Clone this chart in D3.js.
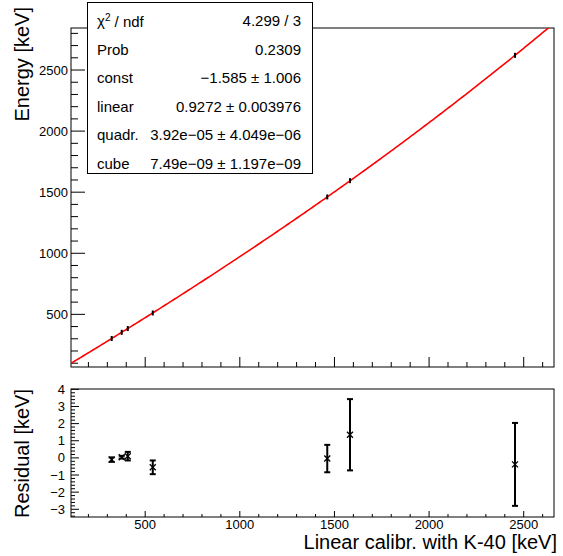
<!DOCTYPE html>
<html>
<head>
<meta charset="utf-8">
<script src="https://cdn.jsdelivr.net/npm/d3@7"></script>
<style>
  body { margin: 0; background: #fff; }
  svg { font-family: "Liberation Sans", Arial, Helvetica, sans-serif; }
</style>
</head>
<body>
<svg id="chart" width="563" height="556"></svg>
<script>
// calibration points: linear calib (K-40) vs. true energy, plus fit residuals
const calib = [323, 376, 408, 540, 1462, 1582, 2454];
const energy = [302.2, 353.0, 383.8, 511.2, 1461.2, 1594.3, 2620.2];
const residual = [-0.1, 0.04, 0.1, -0.55, -0.04, 1.35, -0.38];
const residualErr = [0.13, 0.08, 0.25, 0.4, 0.8, 2.08, 2.42];

// pol3 fit parameters from the stat box
const fitParams = [-1.585, 0.9272, 3.92e-5, 7.49e-9];
const statRows = [
  ["χ2 / ndf", "4.299 / 3"],
  ["Prob", "0.2309"],
  ["const", "−1.585 ± 1.006"],
  ["linear", "0.9272 ± 0.003976"],
  ["quadr.", "3.92e−05 ± 4.049e−06"],
  ["cube", "7.49e−09 ± 1.197e−09"],
];

const xTicks = [500, 1000, 1500, 2000, 2500];
const yTicksTop = [500, 1000, 1500, 2000, 2500];
const yTicksBottom = [-3, -2, -1, 0, 1, 2, 3, 4];

const svg = d3.select("#chart");
const left = 71, right = 554;
const top1 = 28, bot1 = 367;
const top2 = 389, bot2 = 517;

const x = d3.scaleLinear().domain([108, 2660]).range([left, right]);
const yTop = d3.scaleLinear().domain([69, 2844]).range([bot1, top1]);
const yBot = d3.scaleLinear().domain([-3.45, 4.02]).range([bot2, top2]);

const fit = (v) => fitParams.reduce((s, p, i) => s + p * Math.pow(v, i), 0);

svg.append("defs").append("clipPath").attr("id", "clipTop")
  .append("rect").attr("x", left).attr("y", top1).attr("width", right - left).attr("height", bot1 - top1);

// ---- frames
[[top1, bot1], [top2, bot2]].forEach(([t, b]) => {
  svg.append("rect").attr("x", left).attr("y", t).attr("width", right - left).attr("height", b - t)
    .attr("fill", "none").attr("stroke", "#000").attr("stroke-width", 1);
});

// ---- ticks helpers
function xTickMarks(yBase, majorLen, minorLen) {
  const g = svg.append("g").attr("stroke", "#000").attr("stroke-width", 1);
  d3.range(200, 2700, 100).forEach((v) => {
    const len = v % 500 === 0 ? majorLen : minorLen;
    g.append("line").attr("x1", x(v)).attr("x2", x(v)).attr("y1", yBase).attr("y2", yBase - len);
  });
}
function yTickMarks(scale, values, isMajor, majorLen, minorLen) {
  const g = svg.append("g").attr("stroke", "#000").attr("stroke-width", 1);
  values.forEach((v) => {
    const len = isMajor(v) ? majorLen : minorLen;
    g.append("line").attr("x1", left).attr("x2", left + len).attr("y1", scale(v)).attr("y2", scale(v));
  });
}

xTickMarks(bot1, 10, 5);
xTickMarks(bot2, 6, 3);
yTickMarks(yTop, d3.range(100, 2900, 100), (v) => v % 500 === 0, 14, 7);
yTickMarks(yBot, d3.range(-3.4, 4.01, 0.2).map((v) => Math.round(v * 10) / 10),
  (v) => Number.isInteger(v), 8, 4);

// ---- tick labels
svg.append("g").selectAll("text").data(yTicksTop).join("text")
  .attr("x", left - 3).attr("y", (d) => yTop(d)).attr("dy", "0.35em")
  .attr("text-anchor", "end").attr("font-size", 13).text((d) => d);

svg.append("g").selectAll("text").data(yTicksBottom).join("text")
  .attr("x", left - 6).attr("y", (d) => yBot(d)).attr("dy", "0.35em")
  .attr("text-anchor", "end").attr("font-size", 13).text((d) => (d < 0 ? "−" + -d : d));

svg.append("g").selectAll("text").data(xTicks).join("text")
  .attr("x", (d) => x(d)).attr("y", 529)
  .attr("text-anchor", "middle").attr("font-size", 13).text((d) => d);

// ---- axis titles
svg.append("text").attr("transform", "translate(29,7) rotate(-90)")
  .attr("text-anchor", "end").attr("font-size", 20).text("Energy [keV]");
svg.append("text").attr("transform", `translate(29,${top2}) rotate(-90)`)
  .attr("text-anchor", "end").attr("font-size", 20).text("Residual [keV]");
svg.append("text").attr("x", right + 3).attr("y", 549)
  .attr("text-anchor", "end").attr("font-size", 20).text("Linear calibr. with K-40 [keV]");

// ---- fit curve
const xs = d3.range(108, 2661, 10);
svg.append("path").datum(xs)
  .attr("clip-path", "url(#clipTop)")
  .attr("fill", "none").attr("stroke", "#ff0000").attr("stroke-width", 1.6)
  .attr("d", d3.line().x((d) => x(d)).y((d) => yTop(fit(d))));

// ---- top panel points (tiny markers)
svg.append("g").selectAll("rect").data(calib).join("rect")
  .attr("x", (d) => x(d) - 1).attr("y", (d, i) => yTop(energy[i]) - 2.5)
  .attr("width", 2).attr("height", 5).attr("fill", "#000");

// ---- residuals with error bars
const res = svg.append("g").attr("stroke", "#000");
calib.forEach((c, i) => {
  const cx = x(c);
  const y0 = yBot(residual[i] - residualErr[i]);
  const y1 = yBot(residual[i] + residualErr[i]);
  res.append("line").attr("x1", cx).attr("x2", cx).attr("y1", y0).attr("y2", y1).attr("stroke-width", 2);
  [y0, y1].forEach((yy) => {
    res.append("line").attr("x1", cx - 3).attr("x2", cx + 3).attr("y1", yy).attr("y2", yy).attr("stroke-width", 2);
  });
  const cy = yBot(residual[i]);
  const s = 3;
  res.append("path")
    .attr("d", `M${cx - s},${cy - s}L${cx + s},${cy + s}M${cx - s},${cy + s}L${cx + s},${cy - s}`)
    .attr("stroke-width", 1.3).attr("fill", "none");
});

// ---- stat box
const box = svg.append("g");
box.append("rect").attr("x", 87.5).attr("y", 2.5).attr("width", 225).attr("height", 171)
  .attr("fill", "#fff").attr("stroke", "#000").attr("stroke-width", 1);
statRows.forEach(([label, value], i) => {
  const yy = 21 + i * 28.5;
  const t = box.append("text").attr("x", 97).attr("y", yy).attr("dy", "0.35em").attr("font-size", 15);
  if (i === 0) {
    t.append("tspan").text("χ");
    t.append("tspan").attr("font-size", 10).attr("dy", "-0.5em").text("2");
    t.append("tspan").attr("dy", "0.35em").text(" / ndf");
  } else {
    t.text(label);
  }
  box.append("text").attr("x", 301).attr("y", yy).attr("dy", "0.35em")
    .attr("text-anchor", "end").attr("font-size", 15).text(value);
});
</script>
</body>
</html>
